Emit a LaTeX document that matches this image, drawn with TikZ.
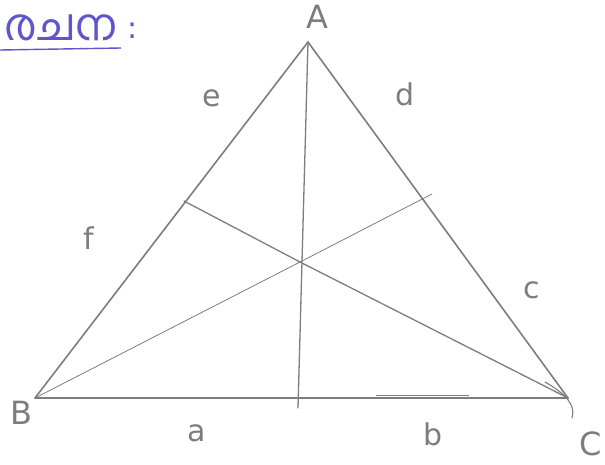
\documentclass[tikz,border=0pt]{standalone}
\usepackage{fontspec}
\newfontfamily\mlfont[Script=Malayalam]{Hind Kochi}
\newfontfamily\lblfont{DejaVu Sans}
\definecolor{pencil}{RGB}{125,125,125}
\definecolor{pen}{RGB}{95,85,205}
\tikzset{
  side/.style={draw=pencil, line width=1.6pt, line cap=round},
  cev/.style={draw=pencil, line width=1.3pt, line cap=round},
  thin cev/.style={draw=pencil, line width=0.8pt, line cap=round},
  lbl/.style={text=pencil, font=\lblfont\fontsize{30}{30}\selectfont, inner sep=0pt},
  vlbl/.style={text=pencil, font=\lblfont\fontsize{32}{32}\selectfont, inner sep=0pt}
}
\begin{document}
\begin{tikzpicture}[x=1pt,y=-1pt]
\useasboundingbox (0,0) rectangle (605,464);
% vertices
\coordinate (A) at (308,42);
\coordinate (B) at (35,398);
\coordinate (C) at (568,398);
\coordinate (O) at (300,262);
\coordinate (F) at (184,201);
\coordinate (Eext) at (432,194);
\coordinate (D) at (298,408);
% triangle
\draw[side] (B) -- (A) -- (C);
\draw[side] (B) -- (C);
% line from A
\draw[cev] (A) -- (D);
% cevians
\draw[cev] (C) -- (O) -- (F);
\draw[thin cev] (B) -- (O) -- (Eext);
% small mark on BC
\draw[draw=pencil, line width=1pt] (376,395.5) -- (469,395.5);
% stroke at C
\draw[draw=pencil, line width=1.1pt, line cap=round] (545,382) .. controls (566,394) and (576,405) .. (572,418);
% vertex labels
\node[vlbl] (lA) at (317,17) {A};
\node[vlbl] (lB) at (21,413) {B};
\node[vlbl] (lC) at (591,444) {C};
% side labels
\node[lbl] (le) at (212,98) {e};
\node[lbl] (ld) at (405,94) {d};
\node[lbl] (lf) at (89,238) {f};
\node[lbl] (lc) at (532,290) {c};
\node[lbl] (la) at (197,433) {a};
\node[lbl] (lb) at (433,434) {b};
% heading
\node[text=pen, font=\mlfont\fontsize{44}{44}\selectfont, anchor=west, inner sep=0pt] (head) at (4,28) {രചന};
\node[text=pen, font=\lblfont\fontsize{30}{30}\selectfont, inner sep=0pt] (colon) at (133,31) {:};
\draw[draw=pen, line width=1.4pt] (0,50) -- (121,48);
\end{tikzpicture}
\end{document}
